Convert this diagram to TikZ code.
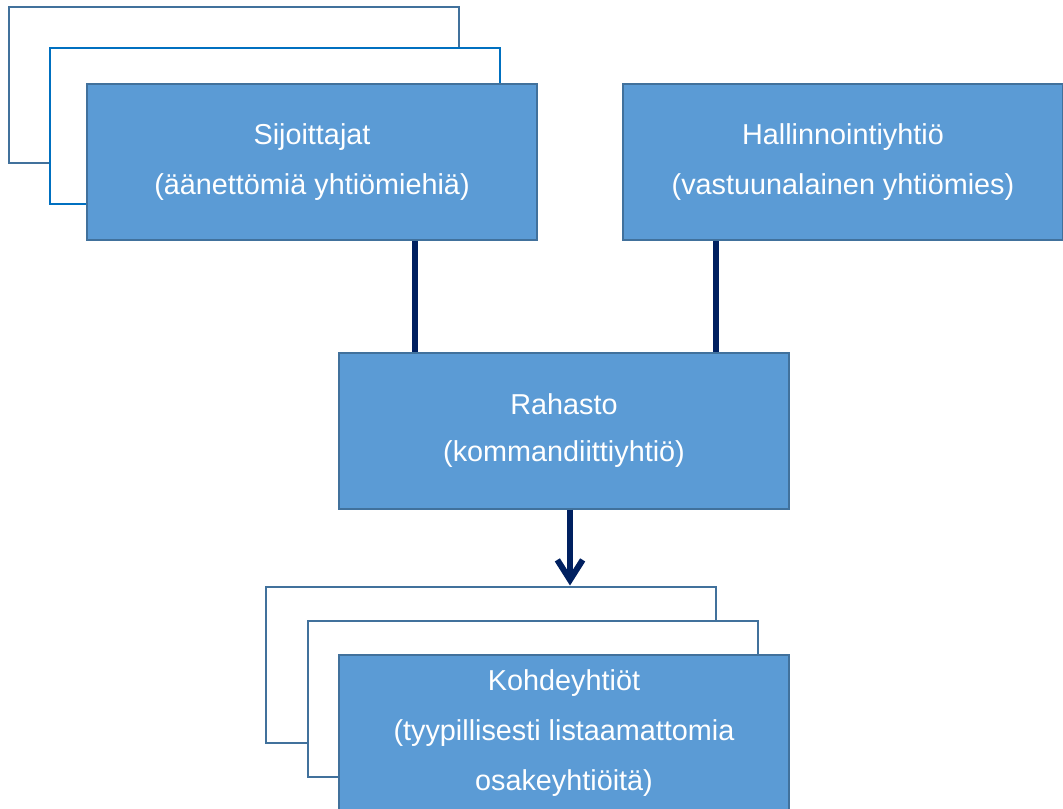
\documentclass[tikz,border=0pt]{standalone}
\usepackage{fontspec}
\setmainfont{Liberation Sans}
\usepackage{tikz}
\usetikzlibrary{arrows.meta,positioning}
\definecolor{BFill}{HTML}{5B9BD5}
\definecolor{BEdge}{HTML}{41719C}
\definecolor{BBright}{HTML}{0070C0}
\definecolor{BNavy}{HTML}{002060}

\begin{document}
\begin{tikzpicture}[
  x=0.75pt,y=-0.75pt,
  box/.style={draw=BEdge,line width=1.5pt,fill=BFill,text=white,
    minimum width=337.5pt,minimum height=117pt,align=center,
    font=\fontsize{21.6}{37.5}\selectfont},
  backbox/.style={box,fill=white},
  link/.style={line width=4.5pt,color=BNavy},
  arr/.style={link,-{Straight Barb[length=15pt,width=19pt,line width=4.5pt]}}
]
  \useasboundingbox (0,0) rectangle (1063,809);
  % investors, stacked
  \node[backbox] (sijb1) at (233.5,85) {};
  \node[backbox,draw=BBright] (sijb2) at (274.5,126.5) {};
  \node[box] (sij) at (312,162) {Sijoittajat\\(äänettömiä yhtiömiehiä)};
  % general partner
  \node[box,minimum width=330pt] (hall) at (843,162.5) {Hallinnointiyhtiö\\(vastuunalainen yhtiömies)};
  % fund
  \node[box] (rah) at (564,430.5) {Rahasto\\[-2pt](kommandiittiyhtiö)};
  % portfolio companies, stacked
  \node[backbox] (kohb1) at (490.5,664.5) {};
  \node[backbox] (kohb2) at (532.5,698.5) {};
  \node[box] (koh) at (564,733) {Kohdeyhtiöt\\(tyypillisesti listaamattomia\\osakeyhtiöitä)};
  \draw[link] (sij.south -| 415,0) -- (rah.north -| 415,0);
  \draw[link] (hall.south -| 716,0) -- (rah.north -| 716,0);
  \draw[arr] (rah.south -| 570,0) -- (kohb1.north -| 570,0);
\end{tikzpicture}
\end{document}
